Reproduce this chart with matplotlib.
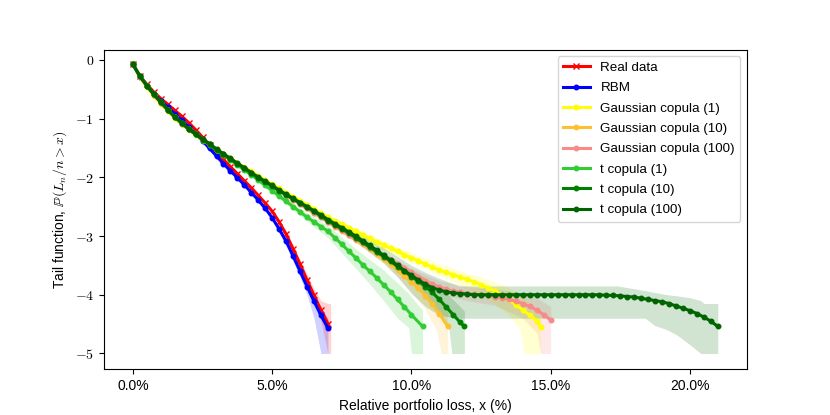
import numpy as np
import matplotlib
matplotlib.use('Agg')
import matplotlib.pyplot as plt
from matplotlib.ticker import PercentFormatter, FuncFormatter, MultipleLocator

plt.rcParams['font.family'] = ['Liberation Sans', 'DejaVu Sans']
plt.rcParams['mathtext.fontset'] = 'cm'

# loss levels in percent, common grid of the simulated curves
loss_grid = np.arange(0, 21.001, 0.25)

# log10 tail function values on loss_grid (last value sits at the series end loss)
real = [-0.08, -0.28, -0.42, -0.55, -0.66, -0.76, -0.86, -0.96, -1.07, -1.19,
        -1.32, -1.45, -1.58, -1.70, -1.82, -1.94, -2.06, -2.18, -2.31, -2.44,
        -2.58, -2.76, -2.97, -3.22, -3.48, -3.75, -4.01, -4.26, -4.49]
rbm = [-0.08, -0.29, -0.44, -0.58, -0.70, -0.81, -0.92, -1.03, -1.14, -1.26,
       -1.38, -1.51, -1.64, -1.77, -1.89, -2.01, -2.13, -2.26, -2.39, -2.53,
       -2.69, -2.88, -3.09, -3.34, -3.60, -3.86, -4.11, -4.35, -4.57]
gauss1 = [-0.08, -0.30, -0.47, -0.62, -0.75, -0.88, -0.99, -1.10, -1.19, -1.28,
          -1.36, -1.44, -1.52, -1.60, -1.68, -1.75, -1.83, -1.90, -1.98, -2.05,
          -2.12, -2.19, -2.26, -2.33, -2.40, -2.47, -2.54, -2.61, -2.68, -2.74,
          -2.80, -2.86, -2.92, -2.98, -3.04, -3.10, -3.15, -3.21, -3.26, -3.32,
          -3.37, -3.42, -3.48, -3.53, -3.58, -3.62, -3.66, -3.70, -3.74, -3.78,
          -3.83, -3.88, -3.94, -4.01, -4.08, -4.17, -4.26, -4.35, -4.44, -4.55]
gauss10 = [-0.08, -0.29, -0.45, -0.60, -0.73, -0.86, -0.98, -1.09, -1.18, -1.27,
           -1.36, -1.44, -1.53, -1.61, -1.69, -1.77, -1.85, -1.93, -2.01, -2.08,
           -2.16, -2.23, -2.31, -2.38, -2.46, -2.53, -2.61, -2.68, -2.76, -2.84,
           -2.91, -2.99, -3.06, -3.14, -3.22, -3.30, -3.39, -3.48, -3.58, -3.68,
           -3.78, -3.89, -4.02, -4.16, -4.32, -4.54]
gauss100 = [-0.08, -0.29, -0.45, -0.60, -0.73, -0.86, -0.98, -1.09, -1.18, -1.27,
            -1.36, -1.44, -1.53, -1.61, -1.69, -1.77, -1.85, -1.93, -2.01, -2.08,
            -2.16, -2.23, -2.31, -2.38, -2.46, -2.53, -2.60, -2.68, -2.76, -2.83,
            -2.90, -2.98, -3.05, -3.12, -3.20, -3.27, -3.33, -3.40, -3.47, -3.55,
            -3.62, -3.69, -3.76, -3.82, -3.87, -3.91, -3.94, -3.96, -3.98, -3.99,
            -4.00, -4.01, -4.03, -4.05, -4.08, -4.11, -4.15, -4.20, -4.26, -4.34,
            -4.43]
t1 = [-0.08, -0.28, -0.44, -0.59, -0.72, -0.85, -0.97, -1.08, -1.18, -1.27,
      -1.36, -1.45, -1.54, -1.62, -1.71, -1.79, -1.88, -1.96, -2.05, -2.14,
      -2.23, -2.32, -2.41, -2.50, -2.59, -2.68, -2.76, -2.84, -2.92, -3.03,
      -3.14, -3.26, -3.37, -3.49, -3.60, -3.71, -3.83, -3.95, -4.08, -4.21,
      -4.34, -4.54]
t10 = [-0.08, -0.28, -0.44, -0.59, -0.72, -0.85, -0.97, -1.08, -1.18, -1.27,
       -1.36, -1.44, -1.53, -1.61, -1.69, -1.77, -1.85, -1.93, -2.01, -2.08,
       -2.15, -2.23, -2.30, -2.37, -2.44, -2.51, -2.58, -2.66, -2.74, -2.81,
       -2.88, -2.95, -3.03, -3.11, -3.19, -3.27, -3.35, -3.43, -3.52, -3.60,
       -3.69, -3.77, -3.86, -3.96, -4.08, -4.21, -4.34, -4.47, -4.54]
t100 = [-0.08, -0.28, -0.44, -0.59, -0.72, -0.85, -0.97, -1.07, -1.17, -1.26,
        -1.35, -1.43, -1.52, -1.60, -1.68, -1.76, -1.84, -1.92, -2.00, -2.07,
        -2.14, -2.22, -2.29, -2.36, -2.43, -2.50, -2.57, -2.64, -2.72, -2.79,
        -2.86, -2.93, -3.00, -3.08, -3.16, -3.24, -3.33, -3.41, -3.50, -3.59,
        -3.67, -3.75, -3.82, -3.88, -3.92, -3.95, -3.97, -3.98, -3.99, -4.00,
        -4.00, -4.00, -4.00, -4.00, -4.00, -4.00, -4.00, -4.00, -4.00, -4.00,
        -4.00, -4.00, -4.00, -4.00, -4.00, -4.00, -4.00, -4.00, -4.01, -4.01,
        -4.02, -4.03, -4.04, -4.06, -4.08, -4.10, -4.12, -4.15, -4.19, -4.23,
        -4.27, -4.32, -4.38, -4.45, -4.54]

# largest observed loss of each series (%)
end_loss = {'real': 7.0, 'rbm': 7.0, 'gauss1': 14.64, 'gauss10': 11.3,
            'gauss100': 15.0, 't1': 10.4, 't10': 11.9, 't100': 21.0}

# confidence bands (loss %, lower, upper)
real_band_x = [5.0, 5.5, 6.0, 6.5, 6.75, 7.0, 7.1]
real_band_lo = [-2.62, -3.00, -3.55, -4.10, -4.45, -5.0, -5.0]
real_band_hi = [-2.55, -2.92, -3.40, -3.90, -4.10, -4.15, -4.15]
rbm_band_x = [5.0, 5.5, 6.0, 6.25, 6.5, 6.75, 7.0]
rbm_band_lo = [-2.75, -3.17, -3.70, -4.00, -4.40, -5.0, -5.0]
rbm_band_hi = [-2.67, -3.07, -3.52, -3.76, -4.00, -4.22, -4.40]
gauss1_band_x = [6.0, 7.0, 8.0, 9.0, 10.0, 11.0, 12.0, 12.5, 13.0, 13.5, 13.9, 14.05, 14.64]
gauss1_band_lo = [-2.44, -2.72, -3.00, -3.24, -3.45, -3.67, -3.90, -4.02, -4.16, -4.35, -4.60, -5.0, -5.0]
gauss1_band_hi = [-2.36, -2.64, -2.86, -3.08, -3.28, -3.47, -3.63, -3.70, -3.78, -3.88, -4.00, -4.05, -4.30]
gauss10_band_x = [6.0, 7.0, 8.0, 9.0, 9.5, 10.0, 10.5, 10.9, 11.07, 11.3]
gauss10_band_lo = [-2.49, -2.80, -3.11, -3.46, -3.68, -3.95, -4.25, -4.60, -5.0, -5.0]
gauss10_band_hi = [-2.43, -2.72, -3.01, -3.30, -3.46, -3.62, -3.80, -4.00, -4.08, -4.30]
gauss100_band_x = [6.0, 7.0, 8.0, 9.0, 10.0, 11.0, 12.0, 13.0, 14.0, 14.5, 14.65, 15.0]
gauss100_band_lo = [-2.50, -2.80, -3.10, -3.40, -3.72, -3.98, -4.10, -4.18, -4.40, -4.65, -5.0, -5.0]
gauss100_band_hi = [-2.42, -2.72, -3.00, -3.28, -3.55, -3.76, -3.86, -3.90, -3.97, -4.05, -4.10, -4.20]
t1_band_x = [5.0, 6.0, 7.0, 8.0, 8.5, 9.0, 9.5, 9.9, 10.0, 10.4]
t1_band_lo = [-2.26, -2.65, -3.03, -3.55, -3.82, -4.10, -4.40, -4.56, -5.0, -5.0]
t1_band_hi = [-2.20, -2.53, -2.82, -3.22, -3.40, -3.58, -3.80, -3.98, -4.04, -4.26]
t10_band_x = [6.0, 7.0, 8.0, 9.0, 10.0, 10.5, 11.0, 11.35, 11.45, 11.9]
t10_band_lo = [-2.47, -2.78, -3.08, -3.41, -3.80, -4.00, -4.30, -4.60, -5.0, -5.0]
t10_band_hi = [-2.41, -2.70, -2.98, -3.29, -3.58, -3.72, -3.90, -4.02, -4.06, -4.28]
t100_band_x = [6.0, 7.0, 8.0, 9.0, 9.5, 10.0, 10.5, 11.0, 11.7, 14.0, 17.4, 18.4,
               18.72, 19.2, 19.55, 20.0, 20.39, 20.5, 21.0]
t100_band_lo = [-2.47, -2.78, -3.10, -3.46, -3.70, -3.98, -4.20, -4.35, -4.40, -4.40, -4.40, -4.40,
                -4.52, -4.60, -4.69, -4.85, -5.0, -5.0, -5.0]
t100_band_hi = [-2.39, -2.66, -2.92, -3.20, -3.35, -3.50, -3.62, -3.72, -3.85, -3.85, -3.85, -3.93,
                -3.96, -4.00, -4.02, -4.05, -4.10, -4.15, -4.15]

series = [
    ('real', 'Real data', real, 'red', 'x', (real_band_x, real_band_lo, real_band_hi)),
    ('rbm', 'RBM', rbm, 'blue', '.', (rbm_band_x, rbm_band_lo, rbm_band_hi)),
    ('gauss1', 'Gaussian copula (1)', gauss1, 'yellow', '.', (gauss1_band_x, gauss1_band_lo, gauss1_band_hi)),
    ('gauss10', 'Gaussian copula (10)', gauss10, '#ffc030', '.', (gauss10_band_x, gauss10_band_lo, gauss10_band_hi)),
    ('gauss100', 'Gaussian copula (100)', gauss100, '#f88a8a', '.', (gauss100_band_x, gauss100_band_lo, gauss100_band_hi)),
    ('t1', 't copula (1)', t1, 'limegreen', '.', (t1_band_x, t1_band_lo, t1_band_hi)),
    ('t10', 't copula (10)', t10, 'green', '.', (t10_band_x, t10_band_lo, t10_band_hi)),
    ('t100', 't copula (100)', t100, 'darkgreen', '.', (t100_band_x, t100_band_lo, t100_band_hi)),
]

fig, ax = plt.subplots(figsize=(8.3, 4.15), dpi=100)

for key, label, vals, color, marker, band in series:
    x = np.append(loss_grid[:len(vals) - 1], end_loss[key])
    ax.fill_between(band[0], band[1], band[2], color=color, alpha=0.18, linewidth=0)
    ms = 4 if marker == 'x' else 6.5
    ax.plot(x, vals, color=color, marker=marker, markersize=ms, linewidth=2.2, label=label)

ax.set_xlim(-1.05, 22.05)
ax.set_ylim(-5.27, 0.17)
ax.xaxis.set_major_locator(MultipleLocator(5))
ax.xaxis.set_major_formatter(PercentFormatter(xmax=100, decimals=1))
ax.yaxis.set_major_formatter(FuncFormatter(lambda v, p: '$%d$' % int(round(v))))
ax.set_xlabel('Relative portfolio loss, x (%)')
ax.set_ylabel(r'Tail function, $\mathbb{P}(L_n/n > x)$')
ax.legend(loc='upper right', fontsize=9.6, labelspacing=0.6)

plt.savefig('out.png')
